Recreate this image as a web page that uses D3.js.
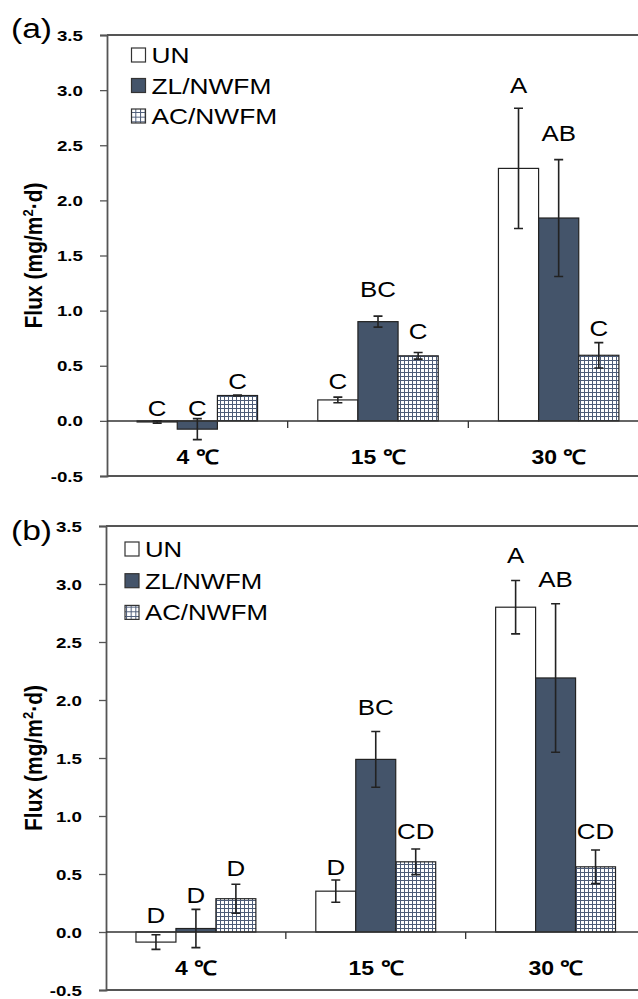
<!DOCTYPE html>
<html>
<head>
<meta charset="utf-8">
<script src="https://cdn.jsdelivr.net/npm/d3@7"></script>
<style>
  body { margin: 0; background: #fff; }
  text { font-family: "Liberation Sans", Arial, sans-serif; fill: #000; }
</style>
</head>
<body>
<svg width="638" height="999"></svg>
<script>
// categories and series
const categories = ['4 \u2103', '15 \u2103', '30 \u2103'];
const series = ['UN', 'ZL/NWFM', 'AC/NWFM'];
const yTicks = [-0.5, 0, 0.5, 1.0, 1.5, 2.0, 2.5, 3.0, 3.5];

// panel (a) means, errors, significance letters and where letters sit
const aUN = [-0.01, 0.19, 2.29];
const aZL = [-0.075, 0.90, 1.84];
const aAC = [0.23, 0.59, 0.595];
const aUNerr = [0.01, 0.025, 0.545];
const aZLerr = [0.095, 0.05, 0.53];
const aACerr = [0.005, 0.03, 0.115];
const aUNlet = ['C', 'C', 'A'];
const aZLlet = ['C', 'BC', 'AB'];
const aAClet = ['C', 'C', 'C'];
const aUNletAt = [0.12, 0.36, 3.045];
const aZLletAt = [0.12, 1.20, 2.61];
const aACletAt = [0.36, 0.82, 0.84];

// panel (b)
const bUN = [-0.087, 0.352, 2.80];
const bZL = [0.03, 1.488, 2.19];
const bAC = [0.287, 0.605, 0.562];
const bUNerr = [0.063, 0.096, 0.23];
const bZLerr = [0.165, 0.24, 0.64];
const bACerr = [0.125, 0.11, 0.145];
const bUNlet = ['D', 'D', 'A'];
const bZLlet = ['D', 'BC', 'AB'];
const bAClet = ['D', 'CD', 'CD'];
const bUNletAt = [0.15, 0.56, 3.25];
const bZLletAt = [0.32, 1.94, 3.04];
const bACletAt = [0.55, 0.87, 0.87];

const svg = d3.select('svg');
const SX = 1.15; // the figure's text is a bit wider than Arial
const dark = '#44546A';

// hatch patterns for AC/NWFM
const defs = svg.append('defs');
function gridPattern(id, s) {
    const p = defs.append('pattern')
        .attr('id', id)
        .attr('patternUnits', 'userSpaceOnUse')
        .attr('width', s).attr('height', s);
    p.append('rect').attr('width', s).attr('height', s).attr('fill', '#fff');
    p.append('path')
        .attr('d', `M0,0.5H${s}M0.5,0V${s}`)
        .attr('stroke', '#4d5c78').attr('stroke-width', 1);
}
gridPattern('grid', 4);
gridPattern('gridLegend', 14 / 3);

const fills = { 'UN': '#fff', 'ZL/NWFM': dark, 'AC/NWFM': 'url(#grid)' };
const legendFills = { 'UN': '#fff', 'ZL/NWFM': dark, 'AC/NWFM': 'url(#gridLegend)' };

function place(sel, x, y, sx = SX) {
    return sel.attr('x', 0).attr('y', 0)
        .attr('transform', `translate(${x},${y}) scale(${sx},1)`);
}

const panels = [
    {
        tag: '(a)', tagY: 38,
        vals: [aUN, aZL, aAC], errs: [aUNerr, aZLerr, aACerr],
        lets: [aUNlet, aZLlet, aAClet], letAt: [aUNletAt, aZLletAt, aACletAt],
        left: 107, right: 649, top: 35, bottom: 476,
        legX: 131.5, legY: 55, legStep: 30.5, legFont: 22.5
    },
    {
        tag: '(b)', tagY: 540,
        vals: [bUN, bZL, bAC], errs: [bUNerr, bZLerr, bACerr],
        lets: [bUNlet, bZLlet, bAClet], letAt: [bUNletAt, bZLletAt, bACletAt],
        left: 106, right: 645.5, top: 526, bottom: 990,
        legX: 125, legY: 549, legStep: 31.7, legFont: 22
    }
];

panels.forEach(drawPanel);

function drawPanel(p) {
    const g = svg.append('g');

    const yScale = d3.scaleLinear().domain([-0.5, 3.5]).range([p.bottom, p.top]);
    const xScale = d3.scaleBand().domain(categories).range([p.left, p.right]);
    const xInner = d3.scaleBand().domain(series)
        .range([0, xScale.bandwidth()])
        .paddingInner(0).paddingOuter(0.75);
    const y0 = yScale(0);

    // bars
    series.forEach((s, si) => {
        const grp = g.append('g');
        grp.selectAll('rect')
            .data(categories)
            .enter()
            .append('rect')
            .attr('x', (c) => xScale(c) + xInner(s))
            .attr('width', xInner.bandwidth())
            .attr('y', (c, i) => Math.min(yScale(p.vals[si][i]), y0))
            .attr('height', (c, i) => Math.abs(yScale(p.vals[si][i]) - y0))
            .attr('fill', fills[s])
            .attr('stroke', '#222')
            .attr('stroke-width', 1.2);
    });

    // plot border (top and bottom) and axes
    g.append('line')
        .attr('x1', p.left).attr('x2', p.right)
        .attr('y1', p.top).attr('y2', p.top)
        .attr('stroke', '#555').attr('stroke-width', 1.8);
    g.append('line')
        .attr('x1', p.left).attr('x2', p.right)
        .attr('y1', p.bottom).attr('y2', p.bottom)
        .attr('stroke', '#555').attr('stroke-width', 1.8);

    const yAxis = d3.axisLeft(yScale)
        .tickValues(yTicks)
        .tickSize(7)
        .tickPadding(0)
        .tickFormat((d) => d.toFixed(1));
    const yAxisGroup = g.append('g')
        .attr('transform', `translate(${p.left},0)`)
        .call(yAxis);
    yAxisGroup.select('.domain').attr('stroke', '#555').attr('stroke-width', 1.8);
    yAxisGroup.selectAll('.tick line').attr('stroke', '#555').attr('stroke-width', 1.3);
    yAxisGroup.selectAll('.tick text')
        .attr('font-size', 15)
        .attr('font-weight', 'bold')
        .attr('dy', '0.34em')
        .attr('text-anchor', 'end')
        .attr('x', 0)
        .attr('transform', 'translate(-24,0) scale(1.25,1)');
    yAxisGroup.attr('font-family', null);

    // category axis on zero
    g.append('line')
        .attr('x1', p.left).attr('x2', p.right)
        .attr('y1', y0).attr('y2', y0)
        .attr('stroke', '#333').attr('stroke-width', 1.5);
    g.selectAll('.cattick')
        .data(categories.slice(1))
        .enter()
        .append('line')
        .attr('x1', (c) => xScale(c)).attr('x2', (c) => xScale(c))
        .attr('y1', y0).attr('y2', y0 + 7)
        .attr('stroke', '#333').attr('stroke-width', 1.3);
    categories.forEach((c) => {
        place(g.append('text'), xScale(c) + xScale.bandwidth() / 2, y0 + 43)
            .attr('text-anchor', 'middle')
            .attr('font-size', 20)
            .attr('font-weight', 'bold')
            .text(c);
    });

    // error bars and letters
    series.forEach((s, si) => {
        categories.forEach((c, i) => {
            const cx = xScale(c) + xInner(s) + xInner.bandwidth() / 2;
            const v = p.vals[si][i], e = p.errs[si][i];
            const yHi = yScale(v + e), yLo = yScale(v - e);
            g.append('path')
                .attr('d', `M${cx},${yHi}V${yLo}M${cx - 4.5},${yHi}H${cx + 4.5}M${cx - 4.5},${yLo}H${cx + 4.5}`)
                .attr('stroke', '#222').attr('stroke-width', 1.6).attr('fill', 'none');
            place(g.append('text'), cx, yScale(p.letAt[si][i]))
                .attr('text-anchor', 'middle')
                .attr('dy', '0.36em')
                .attr('font-size', 22.5)
                .text(p.lets[si][i]);
        });
    });

    // y title
    const title = g.append('text')
        .attr('text-anchor', 'middle')
        .attr('font-size', 21)
        .attr('font-weight', 'bold')
        .attr('transform', `translate(42,${(p.top + p.bottom) / 2}) scale(${SX},1) rotate(-90)`);
    title.append('tspan').text('Flux (mg/m');
    title.append('tspan').attr('font-size', 13).attr('dy', -8).text('2');
    title.append('tspan').attr('dy', 8).text('\u00b7d)');

    // panel tag
    place(g.append('text'), 11, p.tagY, 1.2)
        .attr('font-size', 28)
        .text(p.tag);

    // legend
    series.forEach((s, si) => {
        const cy = p.legY + si * p.legStep;
        g.append('rect')
            .attr('x', p.legX).attr('y', cy - 7)
            .attr('width', 14).attr('height', 14)
            .attr('fill', legendFills[s])
            .attr('stroke', '#333').attr('stroke-width', 1.2);
        place(g.append('text'), p.legX + 20, cy + p.legFont * 0.358, 1.17)
            .attr('font-size', p.legFont)
            .text(s);
    });
}
</script>
</body>
</html>
